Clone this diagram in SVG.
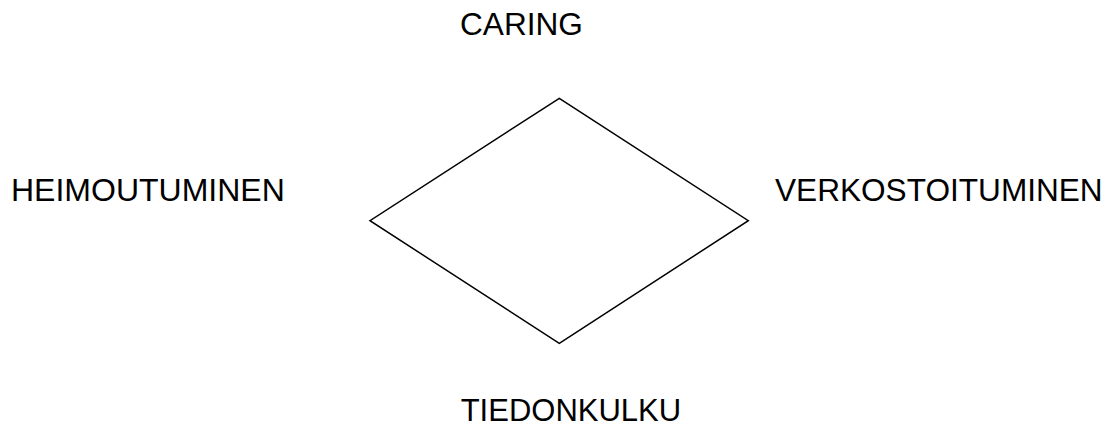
<svg xmlns="http://www.w3.org/2000/svg" width="1114" height="426" viewBox="0 0 1114 426">
<style>
text { font-family: "Liberation Sans", Arial, sans-serif; font-size: 31.6px; fill: #000; }
.shape { fill: none; stroke: #000; stroke-width: 1.5; stroke-linejoin: miter; }
</style>
<rect width="1114" height="426" fill="#fff"/>
<g id="diamond">
<polygon class="shape" points="559.3,98.3 748.3,220.7 559.3,343.3 370,220.7"/>
</g>
<g id="caring"><text x="460" y="34.7">CARING</text></g>
<g id="heimoutuminen"><text x="11" y="200.7" style="font-size:32px">HEIMOUTUMINEN</text></g>
<g id="verkostoituminen"><text x="775" y="200.7">VERKOSTOITUMINEN</text></g>
<g id="tiedonkulku"><text x="460.7" y="420.7" style="font-size:31px">TIEDONKULKU</text></g>
<g id="connectors"></g>
</svg>
